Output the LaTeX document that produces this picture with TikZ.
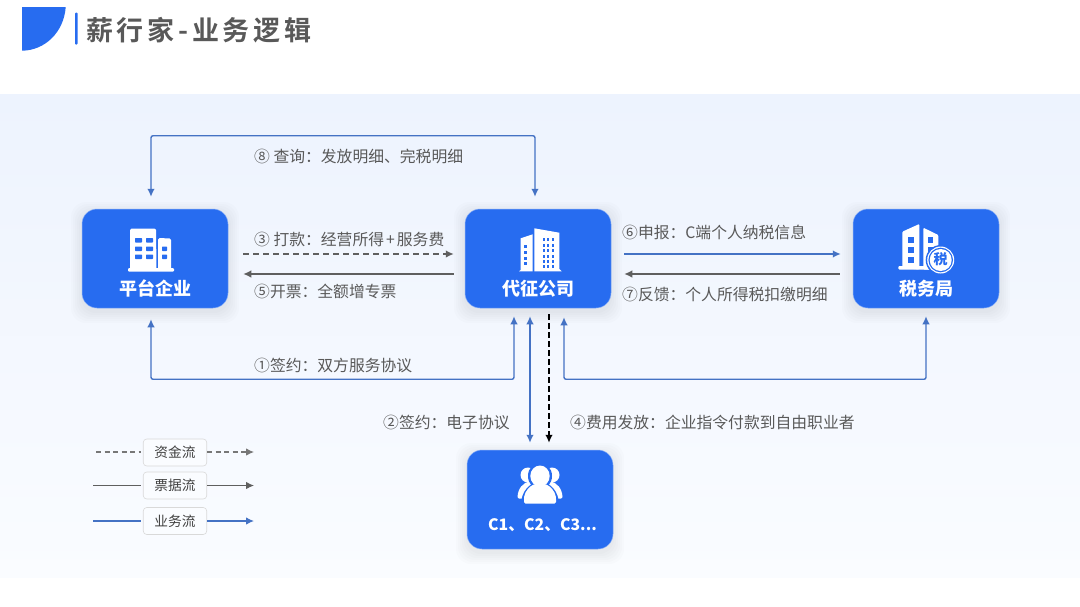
\documentclass[tikz,border=0pt]{standalone}
\usepackage{fontspec}
\setmainfont{Noto Sans CJK SC}
\newfontfamily\titlefont[LetterSpace=13.8,BoldFont={Noto Sans CJK SC Bold}]{Noto Sans CJK SC}
\usetikzlibrary{arrows.meta,calc}
\definecolor{bluebox}{HTML}{276CF0}
\definecolor{flowblue}{HTML}{4472C4}
\definecolor{flowgray}{HTML}{5F5F5F}
\definecolor{txtgray}{HTML}{595959}
\definecolor{bgc}{HTML}{F6F9FE}
\newcommand{\softshadow}[4]{%
  \foreach \g in {11,9,7,5,3,1}{
    \fill[black,opacity=0.011,rounded corners=15pt] (#1-\g,#2-\g+4) rectangle (#3+\g,#4+\g+4);
  }}
\tikzset{
  x=1pt,y=-1pt,
  tip/.style={-{Latex[length=8pt,width=7.5pt]}},
  twotip/.style={{Latex[length=8pt,width=7.5pt]}-{Latex[length=8pt,width=7.5pt]}},
  bizflow/.style={draw=flowblue,line width=1.4pt},
  billflow/.style={draw=flowgray,line width=1.3pt},
  cashflow/.style={draw=flowgray,line width=1.3pt,dash pattern=on 6pt off 4pt},
  blackdash/.style={draw=black,line width=1.4pt,dash pattern=on 6pt off 3pt},
  bluebx/.style={fill=bluebox,draw=bluebox!55!white,line width=0.5pt,rounded corners=15pt,minimum width=146pt,minimum height=99pt,inner sep=0pt},
  boxlabel/.style={text=white,font=\fontsize{18}{20}\selectfont\bfseries,inner sep=0pt},
  flowlabel/.style={text=txtgray,font=\fontsize{15.8}{18}\selectfont,anchor=west,inner sep=0pt},
  legendbx/.style={fill=white!50!bgc,draw=black!15,line width=0.6pt,rounded corners=3.5pt,minimum width=63.5pt,minimum height=27pt,inner sep=0pt,text=black!75,font=\fontsize{13.7}{16}\selectfont},
  iconfill/.style={fill=white,draw=none},
  winfill/.style={fill=bluebox,draw=none},
}
\begin{document}
\begin{tikzpicture}
\useasboundingbox (0,0) rectangle (1080,606);
\fill[white] (0,0) rectangle (1080,606);
% background panel
\shade[shading=axis,shading angle=-60,top color={rgb,255:red,237;green,243;blue,254},bottom color={rgb,255:red,250;green,252;blue,255}] (0,94) rectangle (1080,577);
% header
\fill[bluebox] (22,7) -- (65.7,7) .. controls (64,32) and (45,50.5) .. (22,50.7) -- cycle;
\fill[bluebox,rounded corners=1pt] (75,12.5) rectangle (77.6,44.5);
\node[anchor=west,inner sep=0pt,text=txtgray,font=\titlefont\bfseries\fontsize{27}{30}\selectfont] (title) at (86,30.5) {薪行家-业务逻辑};
% shadows
\softshadow{82}{209}{228}{308}
\softshadow{465}{209}{611}{308}
\softshadow{853}{209}{999}{308}
\softshadow{467}{450}{613}{549}
% boxes
\node[bluebx] (plat) at (155,258.5) {};
\node[bluebx] (dz) at (538,258.5) {};
\node[bluebx] (tax) at (926,258.5) {};
\node[bluebx] (cs) at (540,499.5) {};
\node[boxlabel] (platl) at (155,288.5) {平台企业};
\node[boxlabel] (dzl) at (538,288.5) {代征公司};
\node[boxlabel] (taxl) at (926,288.5) {税务局};
\node[boxlabel,font=\fontsize{15.8}{20}\selectfont\bfseries] (csl) at (542.5,525.5) {C1、C2、C3...};
% platform icon
\fill[iconfill,rounded corners=1.5pt] (130,270) -- (130,228.5) -- (156,228.5) -- (156.5,270) -- cycle;
\fill[iconfill,rounded corners=1.5pt] (158,270) -- (158,238) -- (171,238.5) -- (171,270) -- cycle;
\fill[iconfill,rounded corners=1pt] (128,268) rectangle (174,271.5);
\foreach \yy in {238,246.5,254.5}{
  \fill[winfill,rounded corners=.6pt] (135,\yy) rectangle (142,\yy+4.5);
  \fill[winfill,rounded corners=.6pt] (146,\yy) rectangle (153,\yy+4.5);
}
\foreach \yy in {246.5,254.5}{\fill[winfill,rounded corners=.6pt] (162,\yy) rectangle (167,\yy+4.5);}
% daizheng icon
\fill[iconfill] (520.7,238.3) -- (532.7,234.3) -- (532.7,271.3) -- (519,271.3) -- (520.7,270) -- cycle;
\fill[iconfill] (534.3,228.3) -- (559.3,232.7) -- (559.3,269) -- (561.7,271.3) -- (534.3,271.3) -- cycle;
\foreach \yy in {238,243.5,249,254.5,260,265}{
  \foreach \xx in {542.5,547,551.5}{\fill[winfill] (\xx,\yy-0.0) rectangle (\xx+2.3,\yy+3.2);}
}
\foreach \yy in {244.5,250.5,256.5,262}{\fill[winfill] (524.3,\yy) rectangle (526.7,\yy+3.2);}
% tax icon
\fill[iconfill,rounded corners=1pt] (902.3,268) -- (902.3,231.7) -- (919.3,224) -- (919.3,269.5) -- cycle;
\fill[iconfill,rounded corners=1pt] (923.3,269.5) -- (923.3,227.7) -- (938.3,235) -- (938.3,269.5) -- cycle;
\fill[iconfill,rounded corners=1pt] (898.3,266) rectangle (932,269.5);
\foreach \yy in {237,247,257}{\fill[winfill] (908.3,\yy) rectangle (914,\yy+5.5);}
\foreach \yy in {237,247}{\fill[winfill] (928,\yy) rectangle (933,\yy+5.5);}
\fill[bluebox] (940.7,260) circle (15pt);
\fill[white] (940.7,260) circle (13.5pt);
\fill[bluebox] (940.7,260) circle (12.3pt);
\fill[white] (940.7,260) circle (11pt);
\node[inner sep=0pt,text=bluebox,font=\fontsize{14}{16}\selectfont\bfseries] (taxmark) at (940.7,259.5) {税};
% people icon
\fill[white] (528,475) circle (7.5pt);
\fill[white] (552,475) circle (7.5pt);
\fill[white] (517.5,497) .. controls (518,488) and (523,483) .. (530,481) -- (535,495) -- (522,498.5) .. controls (520,499) and (518,499) .. (517.5,497) -- cycle;
\fill[white] (562.5,497) .. controls (562,488) and (557,483) .. (550,481) -- (545,495) -- (558,498.5) .. controls (560,499) and (562,499) .. (562.5,497) -- cycle;
\fill[bluebox] (540,476) ellipse (12pt and 13.5pt);
\fill[bluebox] (521,505) .. controls (521,491) and (530,482) .. (540,482) .. controls (550,482) and (559,491) .. (559,505) -- cycle;
\fill[white] (540,476) ellipse (9.7pt and 10.5pt);
\fill[white,rounded corners=1.5pt] (524,503.5) -- (524,498) .. controls (525,491) and (530,486) .. (535,484) -- (545,484) .. controls (550,486) and (555,491) .. (556,498) -- (556,503.5) -- cycle;
% connectors
\draw[bizflow,twotip,rounded corners=2pt] ([xshift=-4pt,yshift=12pt]plat.north) |- ([xshift=-3pt,yshift=73pt]dz.north) -- ([xshift=-3pt,yshift=12pt]dz.north);
\draw[cashflow,tip] ([xshift=15pt,yshift=4.5pt]plat.east) -- ([xshift=-11pt,yshift=4.5pt]dz.west);
\draw[billflow,tip] ([xshift=-11pt,yshift=-15.5pt]dz.west) -- ([xshift=15pt,yshift=-15.5pt]plat.east);
\draw[bizflow,tip] ([xshift=13pt,yshift=4.5pt]dz.east) -- ([xshift=-12pt,yshift=4.5pt]tax.west);
\draw[billflow,tip] ([xshift=-13pt,yshift=-15.5pt]tax.west) -- ([xshift=13pt,yshift=-15.5pt]dz.east);
\draw[bizflow,twotip,rounded corners=2pt] ([xshift=-4pt,yshift=-11pt]plat.south) |- ([xshift=-24pt,yshift=-71pt]dz.south) -- ([xshift=-24pt,yshift=-8pt]dz.south);
\draw[bizflow,twotip,rounded corners=2pt] ([xshift=26pt,yshift=-9pt]dz.south) |- ([yshift=-71pt]tax.south) -- ([yshift=-8pt]tax.south);
\draw[bizflow,twotip] ([xshift=-8pt,yshift=-8pt]dz.south) -- ([xshift=-8pt,yshift=7pt]dz.south |- cs.north);
\draw[blackdash,tip] ([xshift=11pt,yshift=-6pt]dz.south) -- ([xshift=11pt,yshift=7pt]dz.south |- cs.north);
% labels
\node[flowlabel] (l8) at (254,156) {⑧ 查询：发放明细、完税明细};
\node[flowlabel] (l3) at (254,239) {③ 打款：经营所得\kern2pt+\kern2pt服务费};
\node[flowlabel] (l5) at (254,291) {⑤开票：全额增专票};
\node[flowlabel] (l1) at (254,365) {①签约：双方服务协议};
\node[flowlabel] (l2) at (383,422) {②签约：电子协议};
\node[flowlabel] (l4) at (570,422) {④费用发放：企业指令付款到自由职业者};
\node[flowlabel] (l6) at (622,232) {⑥申报：C端个人纳税信息};
\node[flowlabel] (l7) at (622,294) {⑦反馈：个人所得税扣缴明细};
% legend
\coordinate (la1) at (96,452); \coordinate (lb1) at (254,452);
\coordinate (la2) at (93,485.5); \coordinate (lb2) at (254,485.5);
\coordinate (la3) at (93,521); \coordinate (lb3) at (254,521);
\node[legendbx] (leg1) at (175,452.5) {资金流\hspace{3pt}};
\node[legendbx] (leg2) at (175,485.5) {票据流\hspace{3pt}};
\node[legendbx] (leg3) at (175,521) {业务流\hspace{3pt}};
\draw[draw=flowgray!85,line width=1.1pt,dash pattern=on 5pt off 3.5pt] (la1) -- ([xshift=-2pt]leg1.west |- la1);
\draw[draw=flowgray!85,line width=1.1pt,dash pattern=on 5pt off 3.5pt,tip] (leg1.east |- lb1) -- (lb1);
\draw[draw=flowgray,line width=1.1pt] (la2) -- ([xshift=-2pt]leg2.west);
\draw[draw=flowgray,line width=1.1pt,tip] (leg2.east) -- (lb2);
\draw[draw=flowblue,line width=1.2pt] (la3) -- ([xshift=-2pt]leg3.west);
\draw[draw=flowblue,line width=1.2pt,tip] (leg3.east) -- (lb3);
\end{tikzpicture}
\end{document}
